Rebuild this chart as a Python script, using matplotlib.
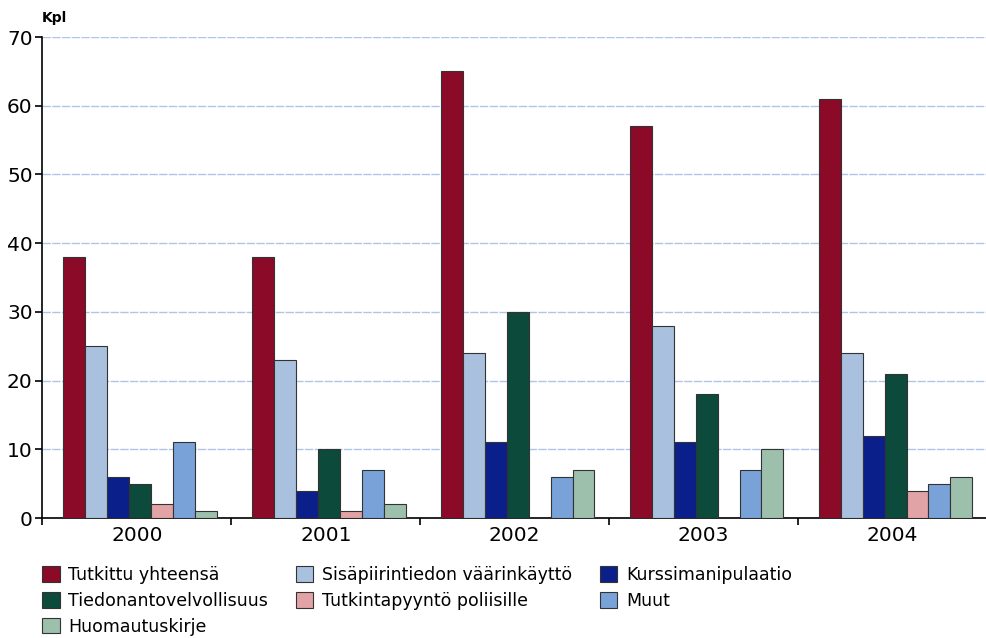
import matplotlib
matplotlib.use("Agg")
import matplotlib.pyplot as plt
import numpy as np

years = ["2000", "2001", "2002", "2003", "2004"]

tutkittu = [38, 38, 65, 57, 61]
sisapiiri = [25, 23, 24, 28, 24]
kurssi = [6, 4, 11, 11, 12]
tiedonanto = [5, 10, 30, 18, 21]
tutkintapyynto = [2, 1, 0, 0, 4]
muut = [11, 7, 6, 7, 5]
huomautus = [1, 2, 7, 10, 6]

series = [
    ("Tutkittu yhteensä", tutkittu, "#8a0a28"),
    ("Sisäpiirintiedon väärinkäyttö", sisapiiri, "#a9c1df"),
    ("Kurssimanipulaatio", kurssi, "#0b1f8a"),
    ("Tiedonantovelvollisuus", tiedonanto, "#0c4a3c"),
    ("Tutkintapyyntö poliisille", tutkintapyynto, "#e2a3a6"),
    ("Muut", muut, "#79a3d8"),
    ("Huomautuskirje", huomautus, "#9dc0ad"),
]

fig = plt.figure(figsize=(9.87, 6.38), dpi=100)
ax = fig.add_axes([0.043, 0.188, 0.957, 0.754])

x = np.arange(len(years))
w = 0.116
offset0 = -0.5 + 0.11 + w / 2
bars = []
for i, (name, vals, col) in enumerate(series):
    b = ax.bar(x + offset0 + i * w, vals, width=w, color=col,
               edgecolor="#333333", linewidth=0.8, label=name, zorder=3)
    bars.append(b)

ax.set_xlim(-0.5, 4.5)
ax.set_ylim(0, 70)
ax.set_yticks(range(0, 71, 10))
ax.yaxis.grid(True, color="#b0c4e6", linewidth=1.0, linestyle=(0, (6, 1)), zorder=0)
ax.set_axisbelow(True)

ax.set_xticks(np.arange(-0.5, 4.6, 1.0))
ax.set_xticklabels([])
ax.set_xticks(x, minor=True)
ax.set_xticklabels(years, minor=True, fontsize=14.5)
ax.tick_params(axis="x", which="minor", length=0, pad=6)
ax.tick_params(axis="x", which="major", length=5, width=1.2, direction="out")
ax.tick_params(axis="y", length=5, width=1.2, labelsize=14.5, pad=2)

for s in ["top", "right"]:
    ax.spines[s].set_visible(False)
ax.spines["left"].set_linewidth(1.2)
ax.spines["bottom"].set_linewidth(1.2)

fig.text(0.042, 0.972, "Kpl", fontsize=10, fontweight="bold", ha="left", va="center")

order = [0, 3, 6, 1, 4, 2, 5]
handles = [bars[i] for i in order]
labels = [series[i][0] for i in order]
fig.legend(handles, labels, loc="upper left", bbox_to_anchor=(0.043, 0.113),
           ncol=3, frameon=False, fontsize=12.5, handlelength=1.0,
           handleheight=1.0, handletextpad=0.5, columnspacing=1.6,
           labelspacing=0.45, borderaxespad=0, borderpad=0)

fig.savefig("out.png", dpi=100)
